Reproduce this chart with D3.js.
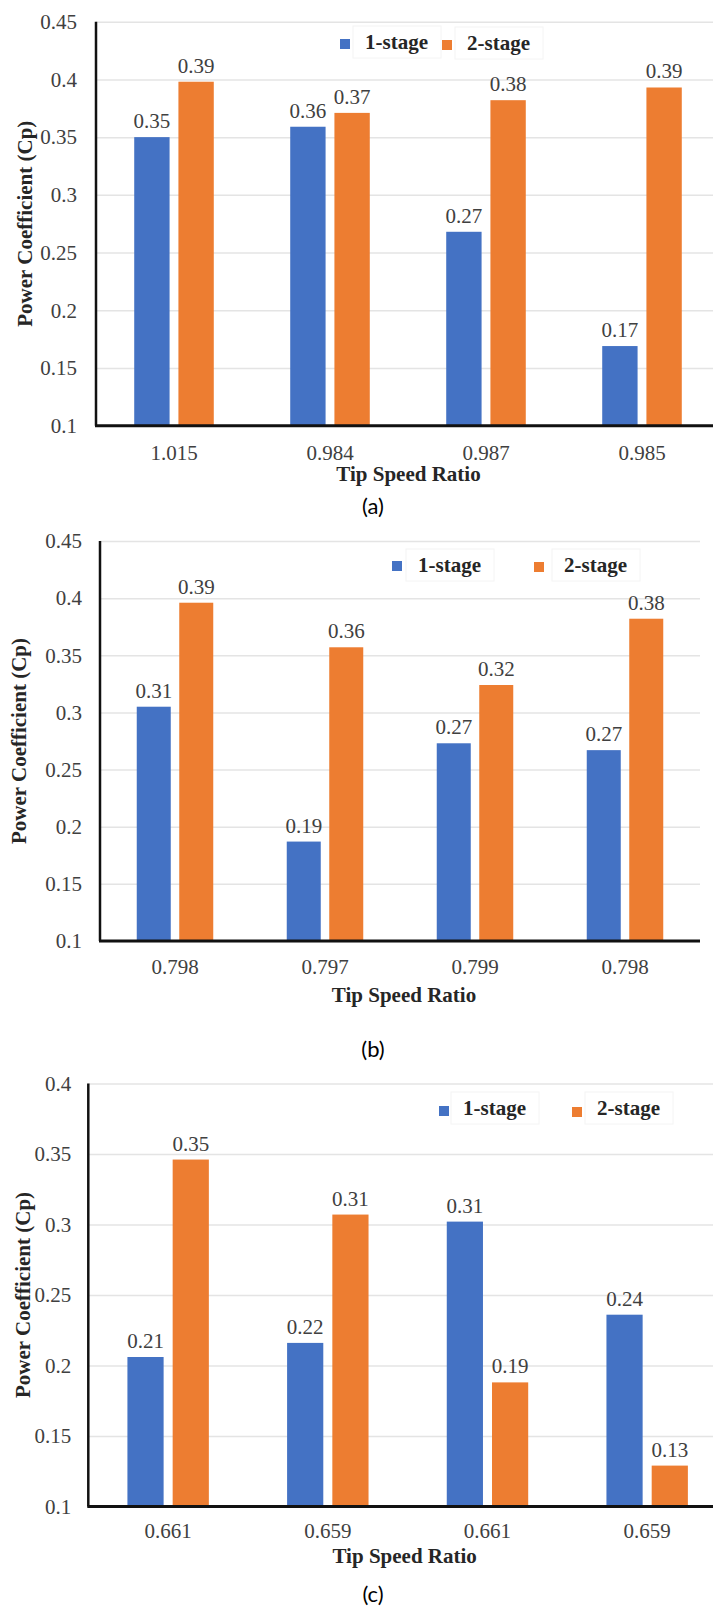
<!DOCTYPE html>
<html>
<head>
<meta charset="utf-8">
<script src="https://cdn.jsdelivr.net/npm/d3@7"></script>
<style>
  body { margin: 0; background: #fff; }
  svg { display: block; }
  text { font-family: "Liberation Serif", "Times New Roman", serif; }
</style>
</head>
<body>
<svg id="chart"></svg>
<script>
// series names
const series = ["1-stage", "2-stage"];

// panel (a)
const tsrA = ["1.015", "0.984", "0.987", "0.985"];
const oneStageA = [0.350, 0.359, 0.268, 0.169];
const twoStageA = [0.398, 0.371, 0.382, 0.393];
const oneLabelsA = ["0.35", "0.36", "0.27", "0.17"];
const twoLabelsA = ["0.39", "0.37", "0.38", "0.39"];
const yTicksA = [0.1, 0.15, 0.2, 0.25, 0.3, 0.35, 0.4, 0.45];
const yTickLabelsA = ["0.1", "0.15", "0.2", "0.25", "0.3", "0.35", "0.4", "0.45"];

// panel (b)
const tsrB = ["0.798", "0.797", "0.799", "0.798"];
const oneStageB = [0.305, 0.187, 0.273, 0.267];
const twoStageB = [0.396, 0.357, 0.324, 0.382];
const oneLabelsB = ["0.31", "0.19", "0.27", "0.27"];
const twoLabelsB = ["0.39", "0.36", "0.32", "0.38"];
const yTicksB = [0.1, 0.15, 0.2, 0.25, 0.3, 0.35, 0.4, 0.45];
const yTickLabelsB = ["0.1", "0.15", "0.2", "0.25", "0.3", "0.35", "0.4", "0.45"];

// panel (c)
const tsrC = ["0.661", "0.659", "0.661", "0.659"];
const oneStageC = [0.206, 0.216, 0.302, 0.236];
const twoStageC = [0.346, 0.307, 0.188, 0.129];
const oneLabelsC = ["0.21", "0.22", "0.31", "0.24"];
const twoLabelsC = ["0.35", "0.31", "0.19", "0.13"];
const yTicksC = [0.1, 0.15, 0.2, 0.25, 0.3, 0.35, 0.4];
const yTickLabelsC = ["0.1", "0.15", "0.2", "0.25", "0.3", "0.35", "0.4"];

const colors = ["#4472C4", "#ED7D31"];

const svg = d3.select("#chart").attr("width", 713).attr("height", 1609);

// layout of each panel (pixels)
const panels = [
  { cats: tsrA, vals: [oneStageA, twoStageA], labels: [oneLabelsA, twoLabelsA],
    ticks: yTicksA, tickLabels: yTickLabelsA, caption: "(a)",
    left: 96, right: 720, top: 21.7, bottom: 425.7, tickPad: 19,
    xTickY: 460, xTitleY: 481, yTitleX: 25, captionY: 514,
    legend: [[340, 39, 365, 49], [442, 40, 467, 50]] },
  { cats: tsrB, vals: [oneStageB, twoStageB], labels: [oneLabelsB, twoLabelsB],
    ticks: yTicksB, tickLabels: yTickLabelsB, caption: "(b)",
    left: 100, right: 700, top: 541, bottom: 941, tickPad: 18,
    xTickY: 974, xTitleY: 1002, yTitleX: 19, captionY: 1057,
    legend: [[392, 561, 418, 572], [534, 562, 564, 572]] },
  { cats: tsrC, vals: [oneStageC, twoStageC], labels: [oneLabelsC, twoLabelsC],
    ticks: yTicksC, tickLabels: yTickLabelsC, caption: "(c)",
    left: 88.3, right: 727, top: 1083.4, bottom: 1506.5, tickPad: 17,
    xTickY: 1538, xTitleY: 1563, yTitleX: 23, captionY: 1602,
    legend: [[439, 1106, 463, 1115], [572, 1107, 597, 1115]] }
];

panels.forEach(drawPanel);

function drawPanel(p) {
  const g = svg.append("g");
  const idx = p.cats.map((d, i) => i);

  const x0 = d3.scaleBand().domain(idx).range([p.left, p.right])
    .paddingInner(0.49).paddingOuter(0.245);
  const x1 = d3.scaleBand().domain(series).range([0, x0.bandwidth()])
    .paddingInner(0.2);
  const y = d3.scaleLinear()
    .domain([p.ticks[0], p.ticks[p.ticks.length - 1]])
    .range([p.bottom, p.top]);

  // gridlines
  g.append("g")
    .attr("transform", `translate(${p.left},0)`)
    .call(d3.axisLeft(y).tickValues(p.ticks).tickSize(-(p.right - p.left)).tickFormat(""))
    .call((a) => a.select(".domain").remove())
    .selectAll("line").attr("stroke", "#e4e4e4").attr("stroke-width", 1.5);

  // y tick labels
  g.append("g")
    .attr("transform", `translate(${p.left},0)`)
    .call(d3.axisLeft(y).tickValues(p.ticks).tickSize(0).tickPadding(p.tickPad)
      .tickFormat((d, i) => p.tickLabels[i]))
    .call((a) => a.select(".domain").remove())
    .selectAll("text")
    .attr("font-size", 21).attr("fill", "#404040")
    .style("font-family", "'Liberation Serif', 'Times New Roman', serif");

  // bars
  series.forEach((s, si) => {
    g.append("g").selectAll("rect")
      .data(p.vals[si])
      .join("rect")
      .attr("x", (d, i) => x0(i) + x1(s))
      .attr("y", (d) => y(d))
      .attr("width", x1.bandwidth())
      .attr("height", (d) => y(p.ticks[0]) - y(d))
      .attr("fill", colors[si]);

    g.append("g").selectAll("text")
      .data(p.vals[si])
      .join("text")
      .attr("x", (d, i) => x0(i) + x1(s) + x1.bandwidth() / 2)
      .attr("y", (d) => y(d) - 9)
      .attr("text-anchor", "middle")
      .attr("font-size", 21)
      .attr("fill", "#404040")
      .text((d, i) => p.labels[si][i]);
  });

  // axes lines
  g.append("line")
    .attr("x1", p.left).attr("x2", p.left)
    .attr("y1", p.top).attr("y2", p.bottom)
    .attr("stroke", "#111").attr("stroke-width", 2.5);

  const xAxis = g.append("g")
    .attr("transform", `translate(0,${p.bottom})`)
    .call(d3.axisBottom(x0).tickSize(0).tickPadding(p.xTickY - p.bottom - 15)
      .tickFormat((d) => p.cats[d]));
  xAxis.select(".domain").attr("stroke", "#111").attr("stroke-width", 3)
    .attr("d", `M${p.left - 1},0H${p.right}`);
  xAxis.selectAll("text")
    .attr("font-size", 21).attr("fill", "#404040")
    .style("font-family", "'Liberation Serif', 'Times New Roman', serif");

  // axis titles
  g.append("text")
    .attr("x", (p.left + Math.min(p.right, 713)) / 2 + 4)
    .attr("y", p.xTitleY)
    .attr("text-anchor", "middle")
    .attr("font-size", 21).attr("font-weight", "bold").attr("fill", "#262626")
    .text("Tip Speed Ratio");

  g.append("text")
    .attr("transform", `translate(${p.yTitleX},${(p.top + p.bottom) / 2}) rotate(-90)`)
    .attr("text-anchor", "middle")
    .attr("dominant-baseline", "central")
    .attr("font-size", 21).attr("font-weight", "bold").attr("fill", "#262626")
    .text("Power Coefficient (Cp)");

  // legend
  series.forEach((s, si) => {
    const [sx, sy, tx, ty] = p.legend[si];
    g.append("rect")
      .attr("x", tx - 12).attr("y", ty - 23)
      .attr("width", 88).attr("height", 32)
      .attr("fill", "#fff").attr("stroke", "#f4f4f4");
    g.append("rect")
      .attr("x", sx).attr("y", sy).attr("width", 10).attr("height", 10)
      .attr("fill", colors[si]);
    g.append("text")
      .attr("x", tx).attr("y", ty)
      .attr("font-size", 21).attr("font-weight", "bold").attr("fill", "#262626")
      .text(s);
  });

  // caption
  svg.append("text")
    .attr("x", 373).attr("y", p.captionY)
    .attr("text-anchor", "middle")
    .attr("font-size", 22).attr("fill", "#000")
    .style("font-family", "Lato, 'Open Sans', sans-serif")
    .text(p.caption);
}
</script>
</body>
</html>
